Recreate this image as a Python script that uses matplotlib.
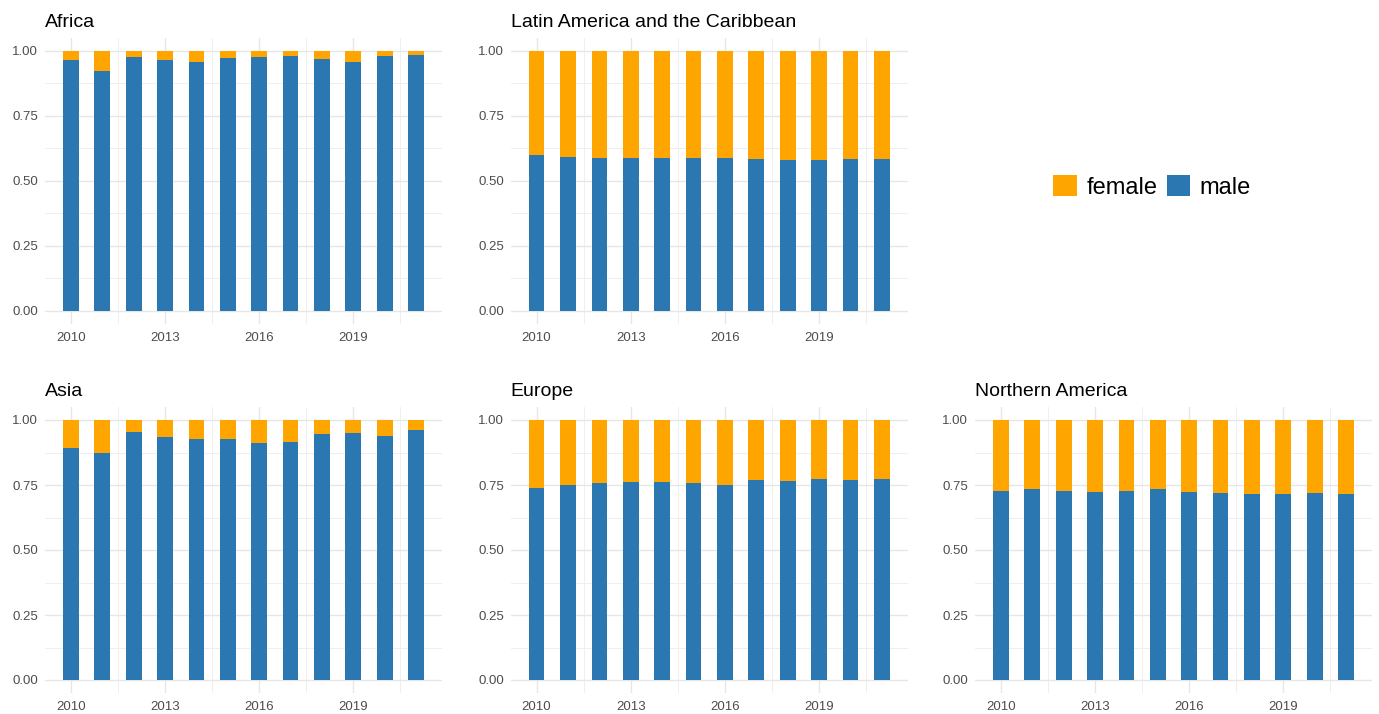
import matplotlib.pyplot as plt
import numpy as np
from matplotlib.patches import Patch

plt.rcParams['font.family'] = ['Liberation Sans', 'DejaVu Sans']

years = list(range(2010, 2022))

# share of male authors per year (female = 1 - male)
africa = [0.963, 0.921, 0.975, 0.963, 0.955, 0.972, 0.975, 0.981, 0.968, 0.955, 0.981, 0.984]
latin_america = [0.599, 0.591, 0.588, 0.588, 0.588, 0.588, 0.588, 0.582, 0.579, 0.579, 0.582, 0.582]
asia = [0.891, 0.874, 0.954, 0.933, 0.926, 0.926, 0.913, 0.917, 0.946, 0.950, 0.937, 0.963]
europe = [0.740, 0.751, 0.756, 0.760, 0.760, 0.756, 0.751, 0.768, 0.765, 0.773, 0.768, 0.773]
northern_america = [0.728, 0.736, 0.728, 0.723, 0.728, 0.736, 0.723, 0.718, 0.715, 0.715, 0.718, 0.715]

panels = [
    ("Africa", africa, 45, 37.7),
    ("Latin America and the Caribbean", latin_america, 510.7, 37.7),
    ("Asia", asia, 45, 407),
    ("Europe", europe, 510.7, 407),
    ("Northern America", northern_america, 975, 407),
]

male_col = '#2a77b1'
female_col = '#ffa500'
W, H = 1379, 714

fig = plt.figure(figsize=(W / 100, H / 100), dpi=100)

for title, male, left, top in panels:
    ax = fig.add_axes([left / W, 1 - (top + 286) / H, 397 / W, 286 / H])
    male = np.array(male)
    female = 1 - male
    ax.bar(years, male, width=0.5, color=male_col, zorder=3)
    ax.bar(years, female, width=0.5, bottom=male, color=female_col, zorder=3)

    ax.set_xlim(2009.175, 2021.825)
    ax.set_ylim(-0.05, 1.05)
    ax.set_xticks([2010, 2013, 2016, 2019])
    ax.set_xticks([2011.5, 2014.5, 2017.5, 2020.5], minor=True)
    ax.set_yticks([0, 0.25, 0.5, 0.75, 1.0])
    ax.set_yticklabels(['0.00', '0.25', '0.50', '0.75', '1.00'])
    ax.set_yticks([0.125, 0.375, 0.625, 0.875], minor=True)
    ax.grid(which='major', color='#e6e6e6', linewidth=1.0, zorder=0)
    ax.grid(which='minor', color='#efefef', linewidth=0.7, zorder=0)
    ax.tick_params(which='both', length=0, labelsize=9.5, labelcolor='#4d4d4d')
    ax.tick_params(axis='x', pad=6)
    ax.tick_params(axis='y', pad=5)
    for s in ax.spines.values():
        s.set_visible(False)
    ax.set_title(title, loc='left', fontsize=14, pad=8)

# legend
handles = [Patch(facecolor=female_col, label='female'), Patch(facecolor=male_col, label='male')]
fig.legend(handles=handles, loc='center', bbox_to_anchor=(1152 / W, 1 - 187 / H), ncol=2,
           frameon=False, fontsize=17, handlelength=1.0, handleheight=1.0,
           handletextpad=0.4, columnspacing=0.4)

fig.savefig('out.png', dpi=100)
